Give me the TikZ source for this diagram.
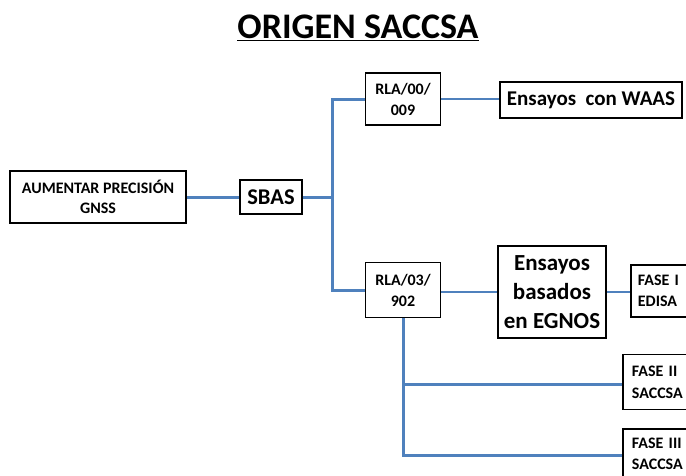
\documentclass[tikz,border=0pt]{standalone}
\usepackage{fontspec}
\setmainfont{Carlito}
\definecolor{lnblue}{RGB}{79,129,189}
\begin{document}
\begin{tikzpicture}[x=1pt,y=-1pt,
  box/.style={draw=black,line width=1.8pt,fill=white,inner sep=0pt,align=center,font=\bfseries},
  fase/.style={box,anchor=west,align=left,inner xsep=9pt,text width=72,font=\bfseries\fontsize{16}{22}\selectfont},
  link/.style={draw=lnblue,line width=3pt},
  thin/.style={draw=lnblue,line width=2.7pt}]
\useasboundingbox (0,0) rectangle (686,475);
\clip (0,0) rectangle (686,475);
\node[font=\bfseries\fontsize{36}{40}\selectfont] (title) at (358,28) {\underline{ORIGEN SACCSA}};
\node[box,minimum width=176,minimum height=52,font=\bfseries\fontsize{16}{20}\selectfont] (aum) at (98,197) {AUMENTAR PRECISIÓN\\GNSS};
\node[box,minimum width=62,minimum height=34,font=\bfseries\fontsize{22.5}{26}\selectfont] (sbas) at (271,197) {SBAS};
\node[box,minimum width=75,minimum height=52,font=\bfseries\fontsize{16}{21}\selectfont] (rla1) at (403,99) {RLA/00/\\009};
\node[box,minimum width=182,minimum height=36,font=\bfseries\fontsize{21}{24}\selectfont] (waas) at (591,100) {Ensayos~ con WAAS};
\node[box,minimum width=75,minimum height=55,font=\bfseries\fontsize{16}{21}\selectfont] (rla3) at (403,290) {RLA/03/\\902};
\node[box,minimum width=108,minimum height=92,font=\bfseries\fontsize{23}{29}\selectfont] (egnos) at (552,292) {Ensayos\\basados\\en EGNOS};
\node[fase,minimum width=80,minimum height=52,inner xsep=7pt,font=\bfseries\fontsize{16}{21}\selectfont] (f1) at (630,291) {FASE I\\EDISA};
\node[fase,minimum width=90,minimum height=55] (f2) at (622,382) {FASE II\\SACCSA};
\node[fase,minimum width=90,minimum height=50,anchor=north west,font=\bfseries\fontsize{16}{21}\selectfont] (f3) at (622,428) {FASE III\\SACCSA};
\coordinate (j1) at (332,197);
\coordinate (j2) at (403,384);
\coordinate (j3) at (403,455);
\draw[link] (aum.east) -- (sbas.west);
\draw[link] (sbas.east) -- (j1);
\draw[link] (rla1.west) -| (j1) |- (rla3.west);
\draw[thin] (rla1.east) -- (waas.west |- rla1.east);
\draw[thin] (rla3.east |- egnos.west) -- (egnos.west);
\draw[thin] (egnos.east) -- (f1.west |- egnos.east);
\draw[link] (rla3.south) -- (j3) -- (j3 -| f3.west);
\draw[link] (j2) -- (j2 -| f2.west);
\end{tikzpicture}
\end{document}
